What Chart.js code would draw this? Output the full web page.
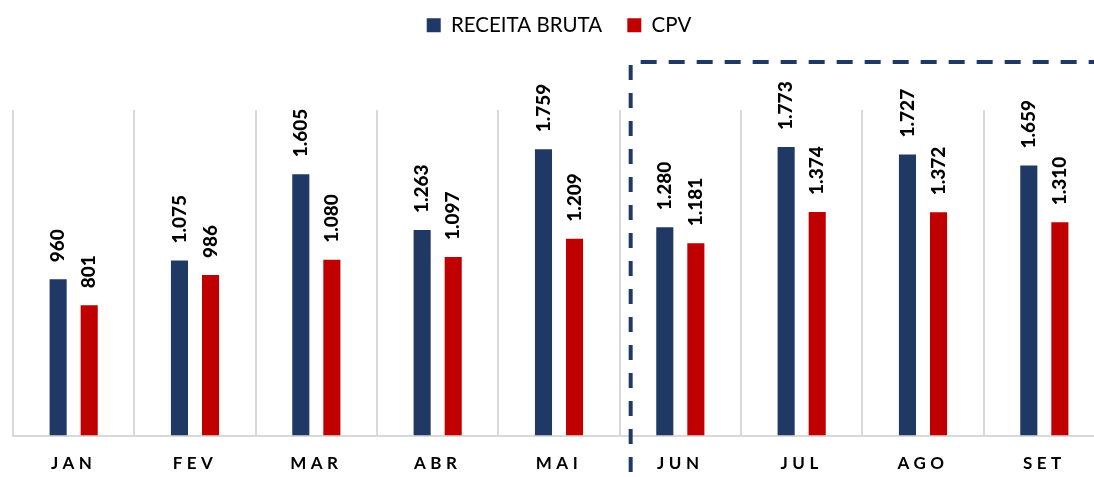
<!DOCTYPE html>
<html>
<head>
<meta charset="utf-8">
<script src="https://cdn.jsdelivr.net/npm/chart.js@4.4.1/dist/chart.umd.min.js"></script>
<style>
    html, body { margin: 0; padding: 0; background: #fff; overflow: hidden; }
    #wrap { width: 1094px; height: 477px; overflow: hidden; }
</style>
</head>
<body>
<div id="wrap"><canvas id="grafico" width="1115" height="494"></canvas></div>
<script>
const meses = ["JAN", "FEV", "MAR", "ABR", "MAI", "JUN", "JUL", "AGO", "SET"];
const receitaBruta = [960, 1075, 1605, 1263, 1759, 1280, 1773, 1727, 1659];
const cpv = [801, 986, 1080, 1097, 1209, 1181, 1374, 1372, 1310];
const inicioDestaque = 5; // JUN em diante fica dentro do quadro tracejado

const AZUL = "#203864";
const VERMELHO = "#C00000";

function formatarNumero(v) {
    return v.toString().replace(/\B(?=(\d{3})+(?!\d))/g, ".");
}

// aumenta a altura da legenda para abrir espaço para os rótulos
const espacoLegenda = {
    id: "espacoLegenda",
    afterInit(chart) {
        if (!chart.legend) return;
        const fitOriginal = chart.legend.fit;
        chart.legend.fit = function () {
            fitOriginal.call(this);
            this.height = 110;
        };
    }
};

const rotulosEQuadro = {
    id: "rotulosEQuadro",
    beforeDraw(chart) {
        chart.ctx.letterSpacing = "0px";
    },
    afterDatasetsDraw(chart) {
        const ctx = chart.ctx;
        ctx.save();
        ctx.letterSpacing = "0px";
        ctx.font = "900 19px Lato";
        ctx.fillStyle = "#000";
        ctx.textAlign = "left";
        ctx.textBaseline = "middle";
        chart.data.datasets.forEach((ds, i) => {
            chart.getDatasetMeta(i).data.forEach((bar, j) => {
                ctx.save();
                ctx.translate(bar.x, bar.y - 17);
                ctx.rotate(-Math.PI / 2);
                ctx.fillText(formatarNumero(ds.data[j]), 0, 0);
                ctx.restore();
            });
        });
        ctx.restore();
        // espaçamento entre letras para os meses (eixo x desenhado depois, z = 1)
        ctx.letterSpacing = "4.5px";
    },
    afterDraw(chart) {
        const ctx = chart.ctx;
        ctx.letterSpacing = "0px";
        const x = chart.scales.x;
        const area = chart.chartArea;
        const esquerda = (x.getPixelForValue(inicioDestaque - 1) + x.getPixelForValue(inicioDestaque)) / 2 + 11;
        const topo = area.top - 48;
        ctx.save();
        ctx.strokeStyle = AZUL;
        ctx.lineWidth = 4;
        ctx.setLineDash([15, 13]);
        ctx.beginPath();
        ctx.moveTo(esquerda, topo + 3);
        ctx.lineTo(esquerda, chart.height + 10);
        ctx.stroke();
        ctx.setLineDash([16, 12]);
        ctx.beginPath();
        ctx.moveTo(esquerda + 10, topo);
        ctx.lineTo(chart.width + 10, topo);
        ctx.stroke();
        ctx.restore();
    }
};

new Chart(document.getElementById("grafico"), {
    type: "bar",
    data: {
        labels: meses,
        datasets: [
            { label: "RECEITA BRUTA\u2002", data: receitaBruta, backgroundColor: AZUL, categoryPercentage: 0.512, barPercentage: 0.55 },
            { label: "CPV", data: cpv, backgroundColor: VERMELHO, categoryPercentage: 0.512, barPercentage: 0.55 }
        ]
    },
    options: {
        responsive: false,
        animation: false,
        layout: { padding: { top: 0, left: 13, right: 10, bottom: 2 } },
        plugins: {
            legend: {
                position: "top",
                labels: {
                    boxWidth: 14,
                    boxHeight: 14,
                    padding: 15,
                    color: "#000",
                    font: { family: "Lato", size: 20.5 }
                }
            },
            tooltip: { enabled: false }
        },
        scales: {
            x: {
                grid: { display: true, color: "#d9d9d9", lineWidth: 2, drawTicks: false, offset: true },
                border: { display: true, color: "#d9d9d9", width: 2 },
                ticks: {
                    z: 1,
                    padding: 18,
                    color: "#000",
                    font: { family: "Lato", size: 17, weight: "bold" }
                }
            },
            y: {
                display: false,
                min: 0,
                max: 2000
            }
        }
    },
    plugins: [espacoLegenda, rotulosEQuadro]
});
</script>
</body>
</html>
